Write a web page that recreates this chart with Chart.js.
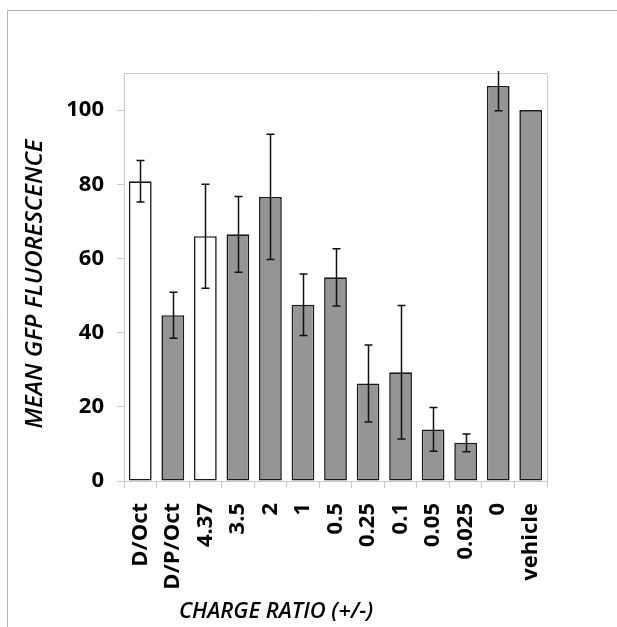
<!DOCTYPE html>
<html>
<head>
<meta charset="utf-8">
<script src="https://cdn.jsdelivr.net/npm/chart.js@4"></script>
<style>
  html, body { margin: 0; padding: 0; background: #fff; }
  #wrap { width: 617px; height: 627px; position: relative; }
</style>
</head>
<body>
<div id="wrap"><canvas id="chartGfp" width="617" height="627"></canvas></div>
<script>
// data
var ratioLabels = ['D/Oct', 'D/P/Oct', '4.37', '3.5', '2', '1', '0.5', '0.25', '0.1', '0.05', '0.025', '0', 'vehicle'];
var meanGfp = [80.8, 44.7, 66.0, 66.5, 76.6, 47.5, 54.9, 26.3, 29.3, 13.9, 10.3, 106.5, 100];
var gfpError = [5.6, 6.2, 14.0, 10.2, 16.9, 8.3, 7.7, 10.4, 18.0, 5.9, 2.4, 6.7, 0];
var openBars = ['D/Oct', '4.37'];
var yTicks = [0, 20, 40, 60, 80, 100];

var barFill = ratioLabels.map(function(l) { return openBars.indexOf(l) >= 0 ? '#ffffff' : '#959595'; });

// frame, plot border, error bars and axis titles
var extras = {
    id: 'extras',
    beforeDraw: function(chart) {
        var ctx = chart.ctx;
        ctx.save();
        ctx.strokeStyle = '#b4b4b4';
        ctx.lineWidth = 1;
        ctx.beginPath();
        ctx.moveTo(7.5, 627);
        ctx.lineTo(7.5, 10.5);
        ctx.lineTo(617, 10.5);
        ctx.stroke();
        ctx.restore();
    },
    afterDatasetsDraw: function(chart) {
        var ctx = chart.ctx, a = chart.chartArea, y = chart.scales.y;
        ctx.save();
        ctx.strokeStyle = '#c8c8c8';
        ctx.lineWidth = 1;
        ctx.beginPath();
        ctx.moveTo(a.left, a.top + 0.5);
        ctx.lineTo(a.right + 0.5, a.top + 0.5);
        ctx.lineTo(a.right + 0.5, a.bottom);
        ctx.stroke();

        ctx.beginPath();
        ctx.rect(0, a.top - 2, 617, a.bottom - a.top + 2);
        ctx.clip();
        ctx.strokeStyle = '#111';
        ctx.lineWidth = 1.5;
        var meta = chart.getDatasetMeta(0);
        meta.data.forEach(function(bar, i) {
            var e = gfpError[i];
            if (!e) return;
            var x = Math.round(bar.x) + 0.5;
            var hi = y.getPixelForValue(meanGfp[i] + e);
            var lo = y.getPixelForValue(meanGfp[i] - e);
            ctx.beginPath();
            ctx.moveTo(x, hi); ctx.lineTo(x, lo);
            ctx.moveTo(x - 4, hi); ctx.lineTo(x + 4, hi);
            ctx.moveTo(x - 4, lo); ctx.lineTo(x + 4, lo);
            ctx.stroke();
        });
        ctx.restore();

        ctx.save();
        ctx.fillStyle = '#000';
        ctx.textAlign = 'center';
        ctx.textBaseline = 'middle';
        ctx.font = 'italic 600 22px "Open Sans"';
        ctx.fillText('CHARGE RATIO (+/-)', 276, 612);
        ctx.translate(35, 284);
        ctx.rotate(-Math.PI / 2);
        ctx.font = 'italic 600 24px "Open Sans"';
        ctx.fillText('MEAN GFP FLUORESCENCE', 0, 0);
        ctx.restore();
    }
};

var ctx = document.getElementById('chartGfp').getContext('2d');
new Chart(ctx, {
    type: 'bar',
    data: {
        labels: ratioLabels,
        datasets: [{
            data: meanGfp,
            backgroundColor: barFill,
            borderColor: '#1a1a1a',
            borderWidth: 1.6,
            borderSkipped: false,
            barPercentage: 0.7,
            categoryPercentage: 1
        }]
    },
    options: {
        responsive: false,
        animation: false,
        layout: { padding: { top: 73, right: 70, left: 0, bottom: 0 } },
        plugins: {
            legend: { display: false },
            tooltip: { enabled: false }
        },
        scales: {
            x: {
                grid: { display: true, drawOnChartArea: false, tickLength: 7, color: '#c8c8c8', offset: true },
                border: { color: '#c8c8c8' },
                ticks: {
                    color: '#000',
                    font: { family: 'Open Sans', weight: 'bold', size: 22 },
                    minRotation: 90, maxRotation: 90,
                    padding: 15, autoSkip: false
                },
                afterFit: function(s) { s.height = 146; }
            },
            y: {
                min: 0, max: 110,
                afterBuildTicks: function(s) { s.ticks = yTicks.map(function(v) { return { value: v }; }); },
                grid: { display: true, drawOnChartArea: false, tickLength: 7, color: '#c8c8c8' },
                border: { color: '#c8c8c8' },
                ticks: {
                    color: '#000',
                    font: { family: 'Open Sans', weight: 'bold', size: 22 },
                    padding: 13
                },
                afterFit: function(s) { s.width = 124; }
            }
        }
    },
    plugins: [extras]
});
</script>
</body>
</html>
